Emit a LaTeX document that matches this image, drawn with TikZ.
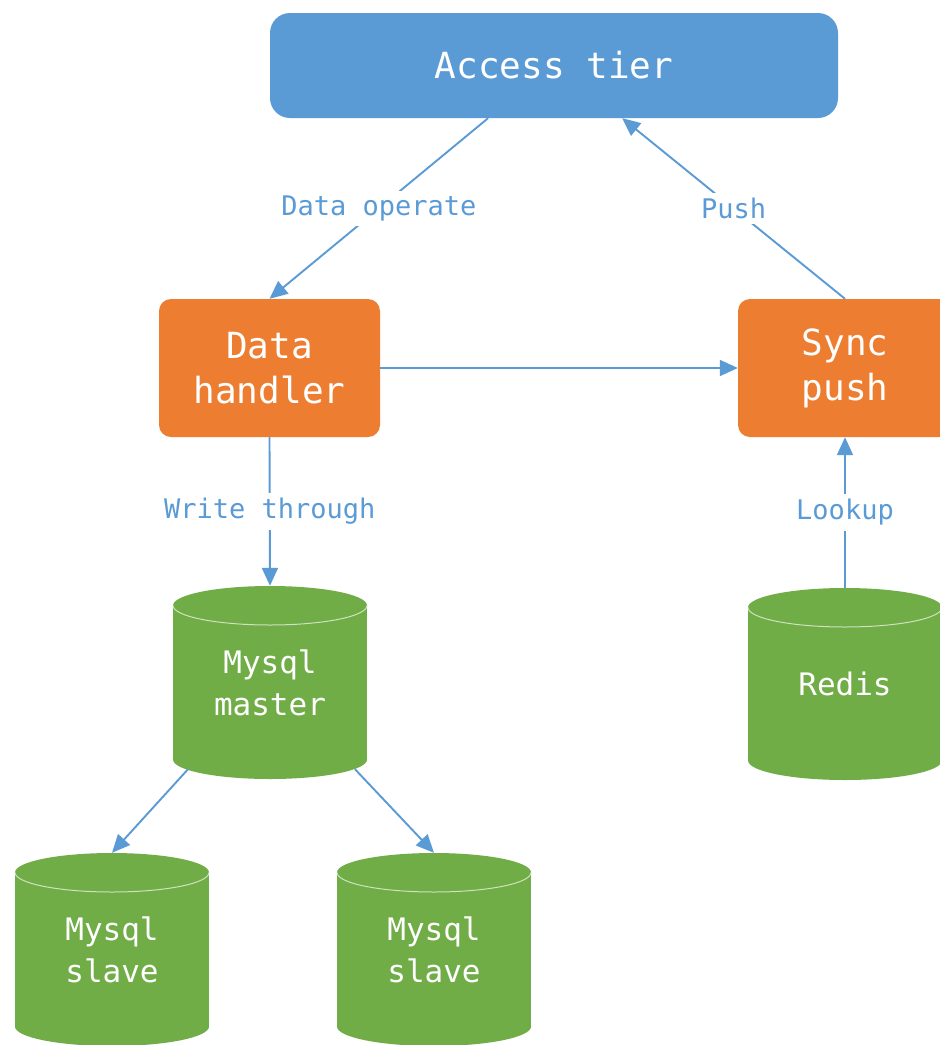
\documentclass[tikz,border=0pt]{standalone}
\usepackage{fontspec}
\setmonofont{DejaVu Sans Mono}
\usetikzlibrary{arrows.meta,calc}
\definecolor{accblue}{HTML}{5B9BD5}
\definecolor{lineblue}{HTML}{5B9BD5}
\definecolor{orng}{HTML}{ED7D31}
\definecolor{grn}{HTML}{70AD47}
\newcommand\dbcyl[5]{%
  \fill[grn] (#2-97,#3+19.5) rectangle (#2+97,#4-19.5);
  \fill[grn] (#2,#4-19.5) ellipse [x radius=97pt, y radius=19.5pt];
  \fill[grn] (#2,#3+19.5) ellipse [x radius=97pt, y radius=19.5pt];
  \draw[grn!35!white, line width=1pt] (#2-97,#3+19.5) arc [start angle=180, end angle=360, x radius=97pt, y radius=19.5pt];
  \node[cyltext, minimum width=194pt, minimum height={(#4-#3)*1pt}] (#1) at (#2,{(#3+#4)/2}) {#5};
}
\begin{document}
\begin{tikzpicture}[x=1pt,y=-1pt,
  box/.style={rounded corners=12pt, text=white, font=\ttfamily\fontsize{36}{45}\selectfont, align=center, inner sep=0pt},
  cyltext/.style={text=white, font=\ttfamily\fontsize{31}{42}\selectfont, align=center, inner sep=0pt},
  conn/.style={draw=lineblue, line width=1.9pt, -{Triangle[length=18pt,width=16pt]}},
  lbl/.style={fill=white, text=lineblue, font=\ttfamily\fontsize{27}{32}\selectfont, inner sep=5pt}]
\useasboundingbox (0,0) rectangle (940,1045);
\fill[white] (0,0) rectangle (940,1045);

\node[box, fill=accblue, rounded corners=20pt, minimum width=568pt, minimum height=105pt] (acc) at (554,65.5) {Access tier};
\node[box, fill=orng, minimum width=221pt, minimum height=138pt] (dh) at (269.5,368) {Data\\handler};
\node[box, fill=orng, minimum width=214pt, minimum height=138pt] (sp) at (845,368) {Sync\\push};

\dbcyl{ms}{270}{586}{779}{Mysql\\master}
\dbcyl{rd}{845}{588}{780}{Redis}
\dbcyl{s1}{112}{853}{1046}{Mysql\\slave}
\dbcyl{s2}{434}{853}{1046}{Mysql\\slave}

\draw[conn] ($(acc.south west)!0.384!(acc.south east)$) -- node[lbl]{Data operate} (dh.north);
\draw[conn] (sp.north) -- node[lbl]{Push} ($(acc.south west)!0.62!(acc.south east)$);
\draw[conn] (dh.east) -- (sp.west);
\draw[conn] (dh.south) -- node[lbl]{Write through} (ms.north);
\draw[conn] (rd.north) -- node[lbl]{Lookup} (sp.south);
\draw[conn] ([xshift=-82pt,yshift=10pt]ms.south) -- (s1.north);
\draw[conn] ([xshift=85pt,yshift=10pt]ms.south) -- (s2.north);
\end{tikzpicture}
\end{document}
